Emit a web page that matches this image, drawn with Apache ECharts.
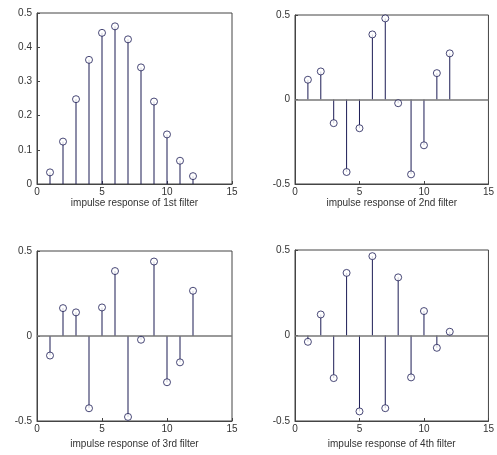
<!DOCTYPE html>
<html><head><meta charset="utf-8">
<script src="https://cdn.jsdelivr.net/npm/echarts@6/dist/echarts.min.js"></script>
<style>html,body{margin:0;padding:0;background:#fff}#c{width:497px;height:455px}</style>
</head><body><div id="c"></div>
<script>
const n = [1,2,3,4,5,6,7,8,9,10,11,12];
const h1 = [0.034,0.124,0.248,0.363,0.442,0.461,0.423,0.341,0.241,0.145,0.068,0.023];
const h2 = [0.117,0.166,-0.140,-0.429,-0.170,0.385,0.480,-0.022,-0.443,-0.271,0.156,0.273];
const h3 = [-0.115,0.164,0.139,-0.425,0.168,0.382,-0.476,-0.022,0.438,-0.272,-0.155,0.266];
const h4 = [-0.037,0.123,-0.249,0.366,-0.444,0.464,-0.425,0.340,-0.245,0.143,-0.072,0.022];
const names = ['impulse response of 1st filter','impulse response of 2nd filter','impulse response of 3rd filter','impulse response of 4th filter'];
const seriesData = [h1,h2,h3,h4];
const yRanges = [[0,0.5,0.1],[-0.5,0.5,0.5],[-0.5,0.5,0.5],[-0.5,0.5,0.5]];
const nameGaps = [12,12,18,18];

const grids = [
  {left:37, top:13, width:195, height:171},
  {left:295, top:15, width:194, height:169},
  {left:37, top:251, width:195, height:170},
  {left:295, top:250, width:194, height:171}
];
const stemColor = '#1c1c55';
const txt = {color:'#333', fontSize:10, fontFamily:'Liberation Sans, Arial, sans-serif'};

const option = {
  animation:false,
  backgroundColor:'#fff',
  grid: grids.map(g => Object.assign({show:true, borderColor:'#444', borderWidth:1, backgroundColor:'transparent'}, g)),
  xAxis: grids.map((g,i) => ({
    gridIndex:i, type:'value', min:0, max:15, interval:5,
    name:names[i], nameLocation:'middle', nameGap:nameGaps[i],
    nameTextStyle:Object.assign({}, txt),
    axisLine:{show:true, onZero:false, lineStyle:{color:'#444'}},
    axisTick:{show:true, inside:true, length:3, lineStyle:{color:'#444'}},
    axisLabel:Object.assign({margin:3}, txt),
    splitLine:{show:false}
  })),
  yAxis: grids.map((g,i) => ({
    gridIndex:i, type:'value', min:yRanges[i][0], max:yRanges[i][1], interval:yRanges[i][2],
    axisLine:{show:true, onZero:false, lineStyle:{color:'#444'}},
    axisTick:{show:true, inside:true, length:3, lineStyle:{color:'#444'}},
    axisLabel:Object.assign({margin:5}, txt),
    splitLine:{show:false}
  })),
  series: []
};
seriesData.forEach((d,i) => {
  const pts = n.map((x,k) => [x, d[k]]);
  option.series.push({
    type:'bar', xAxisIndex:i, yAxisIndex:i, data:pts, barWidth:1,
    itemStyle:{color:stemColor}, silent:true,
    markLine: i>0 ? {silent:true, symbol:'none', label:{show:false},
      lineStyle:{color:'#777', width:1.5, type:'solid'}, data:[{yAxis:0}]} : undefined
  });
  option.series.push({
    type:'scatter', xAxisIndex:i, yAxisIndex:i, data:pts, symbol:'circle', symbolSize:7,
    itemStyle:{color:'#fff', borderColor:stemColor, borderWidth:1}, z:5
  });
});
echarts.init(document.getElementById('c')).setOption(option);
</script></body></html>
